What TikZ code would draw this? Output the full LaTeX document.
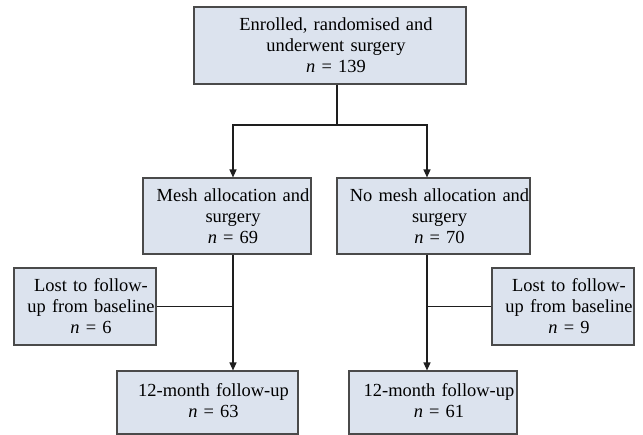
\documentclass[tikz,border=0pt]{standalone}
\usepackage{fontspec}
\setmainfont{Liberation Serif}
\usepackage{tikz}
\usetikzlibrary{arrows.meta,positioning,calc}
\definecolor{boxfill}{HTML}{DCE3EE}
\definecolor{boxline}{HTML}{4A4A4A}
\definecolor{wire}{HTML}{1E1E1E}

\begin{document}
\begin{tikzpicture}[
 x=0.02cm,y=-0.02cm,
 box/.style={rectangle,draw=boxline,fill=boxfill,line width=0.7pt,align=center,inner xsep=0pt,inner ysep=1pt,
   font=\fontsize{10.5}{12}\selectfont,execute at begin node={\advance\leftskip by 0.24cm}},
 link/.style={draw=wire,line width=0.6pt},
 arr/.style={link,-{Triangle[length=4.5pt,width=4pt]}}
]
\path[use as bounding box] (0,0) rectangle (643,435);
% boxes
\node[box,text width=5.44cm,minimum height=1.54cm] (enrol) at (330,45.5) {Enrolled, randomised and\\underwent surgery\\\textit{n} = 139};
\node[box,text width=3.36cm,minimum height=1.52cm] (mesh) at (227,216) {Mesh allocation and\\surgery\\\textit{n} = 69};
\node[box,text width=3.86cm,minimum height=1.52cm] (nomesh) at (433.5,216) {No mesh allocation and\\surgery\\\textit{n} = 70};
\node[box,text width=2.84cm,minimum height=1.54cm] (lostL) at (85,306.5) {Lost to follow-\\up from baseline\\\textit{n} = 6};
\node[box,text width=2.84cm,minimum height=1.54cm] (lostR) at (563,306.5) {Lost to follow-\\up from baseline\\\textit{n} = 9};
\node[box,text width=3.62cm,minimum height=1.26cm,text depth=14pt] (fupL) at (207.5,402.5) {12-month follow-up\\\textit{n} = 63};
\node[box,text width=3.36cm,minimum height=1.26cm,text depth=14pt] (fupR) at (433,402.5) {12-month follow-up\\\textit{n} = 61};
% junctions
\coordinate (split) at (337,125);
\coordinate (colL) at (233,0);
\coordinate (colR) at (427,0);
% connectors
\draw[link] (enrol.south -| split) -- (split);
\draw[arr] (split) -| (mesh.north -| colL);
\draw[arr] (split) -| (nomesh.north -| colR);
\draw[arr] (mesh.south -| colL) -- (fupL.north -| colL);
\draw[arr] (nomesh.south -| colR) -- (fupR.north -| colR);
\draw[link] (lostL.east) -- (lostL.east -| colL);
\draw[link] (lostR.west) -- (lostR.west -| colR);
\end{tikzpicture}
\end{document}
